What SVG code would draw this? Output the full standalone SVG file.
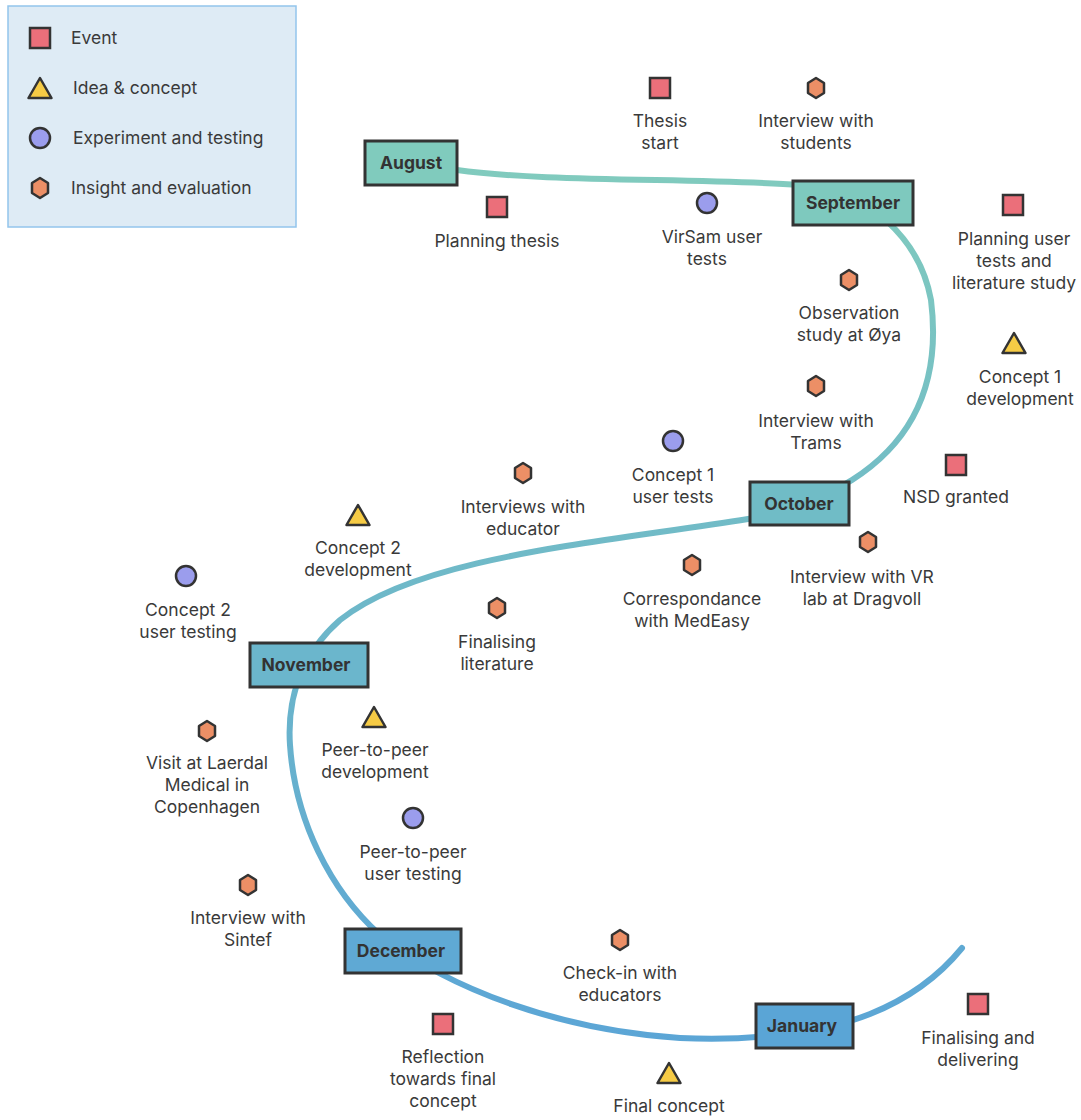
<svg xmlns="http://www.w3.org/2000/svg" xmlns:xlink="http://www.w3.org/1999/xlink" width="1081" height="1120" viewBox="0 0 1081 1120">
  <style>
    .lbl { font-family: Inter, "Noto Sans", "Liberation Sans", sans-serif; font-size: 17.5px; fill: #3a3a3a; text-anchor: middle; }
    .leg { font-family: Inter, "Noto Sans", "Liberation Sans", sans-serif; font-size: 17.5px; fill: #3a3a3a; }
    .month text { font-family: Inter, "Noto Sans", "Liberation Sans", sans-serif; font-size: 17.5px; font-weight: 700; fill: #333; text-anchor: middle; }
    .month rect { stroke: #333; stroke-width: 3; }
    .ev { fill: #eb6f7a; stroke: #333; stroke-width: 2.5; }
    .idea { fill: #f6cb45; stroke: #333; stroke-width: 2.5; stroke-linejoin: round; }
    .exp { fill: #9b9ded; stroke: #333; stroke-width: 2.5; }
    .ins { fill: #ec8f66; stroke: #333; stroke-width: 2.5; stroke-linejoin: round; }
  </style>
  <defs>
    <linearGradient id="timeline" x1="0" y1="140" x2="0" y2="1050" gradientUnits="userSpaceOnUse">
      <stop offset="0" stop-color="#82ccbd"/>
      <stop offset="0.4" stop-color="#72bcc6"/>
      <stop offset="1" stop-color="#5ba5d6"/>
    </linearGradient>
    <rect id="sq" x="-10" y="-10" width="20" height="20" class="ev"/>
    <polygon id="tri" points="0,-11 11.5,9 -11.5,9" class="idea"/>
    <circle id="cir" r="10" class="exp"/>
    <polygon id="hex" points="0,-10 8,-5 8,5 0,10 -8,5 -8,-5" class="ins"/>
  </defs>

  <!-- legend -->
  <g id="legend">
    <rect x="8" y="6" width="288" height="221" fill="#deebf5" stroke="#93c5ec" stroke-width="1.5"/>
    <use href="#sq" x="40" y="38"/>
    <text class="leg" x="71" y="44">Event</text>
    <use href="#tri" x="40" y="89"/>
    <text class="leg" x="73" y="94">Idea &amp; concept</text>
    <use href="#cir" x="40" y="138"/>
    <text class="leg" x="73" y="144">Experiment and testing</text>
    <use href="#hex" x="40" y="188"/>
    <text class="leg" x="71" y="194">Insight and evaluation</text>
  </g>

  <!-- timeline connector -->
  <g id="connectors">
    <path d="M 457 170 C 540 182, 700 178, 800 185 C 870 190, 920 240, 931 300 C 941 380, 915 440, 852 480 C 820 500, 780 514, 748 519 C 600 543, 420 556, 340 620 C 300 655, 287 700, 290 745 C 295 820, 330 890, 380 935 C 450 990, 560 1030, 680 1038 C 760 1042, 830 1030, 870 1014 C 910 998, 940 975, 962 948" fill="none" stroke="url(#timeline)" stroke-width="6" stroke-linecap="round"/>
  </g>

  <!-- months -->
  <g id="m-aug" class="month"><rect x="365" y="141" width="92" height="44" fill="#80cbbd"/><text x="411" y="169">August</text></g>
  <g id="m-sep" class="month"><rect x="793" y="181" width="120" height="44" fill="#7ec9be"/><text x="853" y="209">September</text></g>
  <g id="m-oct" class="month"><rect x="750" y="482" width="99" height="43" fill="#70bcc6"/><text x="799" y="510">October</text></g>
  <g id="m-nov" class="month"><rect x="250" y="643" width="118" height="44" fill="#6bb6cc"/><text x="306" y="671">November</text></g>
  <g id="m-dec" class="month"><rect x="345" y="929" width="116" height="44" fill="#5fa9d4"/><text x="401" y="957">December</text></g>
  <g id="m-jan" class="month"><rect x="756" y="1004" width="97" height="44" fill="#5aa5d6"/><text x="802" y="1032">January</text></g>

  <!-- activities -->
  <g id="thesis-start"><use href="#sq" x="660" y="88"/><text class="lbl" x="660" y="127">Thesis</text><text class="lbl" x="660" y="149">start</text></g>
  <g id="interview-students"><use href="#hex" x="816" y="88"/><text class="lbl" x="816" y="127">Interview with</text><text class="lbl" x="816" y="149">students</text></g>
  <g id="planning-thesis"><use href="#sq" x="497" y="207"/><text class="lbl" x="497" y="247">Planning thesis</text></g>
  <g id="virsam-tests"><use href="#cir" x="707" y="203"/><text class="lbl" x="712" y="243">VirSam user</text><text class="lbl" x="707" y="265">tests</text></g>
  <g id="planning-user-tests"><use href="#sq" x="1013" y="205"/><text class="lbl" x="1014" y="245">Planning user</text><text class="lbl" x="1014" y="267">tests and</text><text class="lbl" x="1014" y="289">literature study</text></g>
  <g id="observation-oya"><use href="#hex" x="849" y="280"/><text class="lbl" x="849" y="319">Observation</text><text class="lbl" x="849" y="341">study at Øya</text></g>
  <g id="concept1-dev"><use href="#tri" x="1014" y="344"/><text class="lbl" x="1020" y="383">Concept 1</text><text class="lbl" x="1020" y="405">development</text></g>
  <g id="interview-trams"><use href="#hex" x="816" y="386"/><text class="lbl" x="816" y="427">Interview with</text><text class="lbl" x="816" y="449">Trams</text></g>
  <g id="concept1-tests"><use href="#cir" x="673" y="441"/><text class="lbl" x="673" y="481">Concept 1</text><text class="lbl" x="673" y="503">user tests</text></g>
  <g id="interviews-educator"><use href="#hex" x="523" y="473"/><text class="lbl" x="523" y="513">Interviews with</text><text class="lbl" x="523" y="535">educator</text></g>
  <g id="nsd-granted"><use href="#sq" x="956" y="465"/><text class="lbl" x="956" y="503">NSD granted</text></g>
  <g id="concept2-dev"><use href="#tri" x="358" y="516"/><text class="lbl" x="358" y="554">Concept 2</text><text class="lbl" x="358" y="576">development</text></g>
  <g id="vr-lab"><use href="#hex" x="868" y="542"/><text class="lbl" x="862" y="583">Interview with VR</text><text class="lbl" x="862" y="605">lab at Dragvoll</text></g>
  <g id="medeasy"><use href="#hex" x="692" y="565"/><text class="lbl" x="692" y="605">Correspondance</text><text class="lbl" x="692" y="627">with MedEasy</text></g>
  <g id="concept2-testing"><use href="#cir" x="186" y="576"/><text class="lbl" x="188" y="616">Concept 2</text><text class="lbl" x="188" y="638">user testing</text></g>
  <g id="finalising-literature"><use href="#hex" x="497" y="608"/><text class="lbl" x="497" y="648">Finalising</text><text class="lbl" x="497" y="670">literature</text></g>
  <g id="p2p-dev"><use href="#tri" x="374" y="718"/><text class="lbl" x="375" y="756">Peer-to-peer</text><text class="lbl" x="375" y="778">development</text></g>
  <g id="laerdal"><use href="#hex" x="207" y="731"/><text class="lbl" x="207" y="769">Visit at Laerdal</text><text class="lbl" x="207" y="791">Medical in</text><text class="lbl" x="207" y="813">Copenhagen</text></g>
  <g id="p2p-testing"><use href="#cir" x="413" y="818"/><text class="lbl" x="413" y="858">Peer-to-peer</text><text class="lbl" x="413" y="880">user testing</text></g>
  <g id="interview-sintef"><use href="#hex" x="248" y="885"/><text class="lbl" x="248" y="924">Interview with</text><text class="lbl" x="248" y="946">Sintef</text></g>
  <g id="checkin-educators"><use href="#hex" x="620" y="940"/><text class="lbl" x="620" y="979">Check-in with</text><text class="lbl" x="620" y="1001">educators</text></g>
  <g id="finalising-delivering"><use href="#sq" x="978" y="1004"/><text class="lbl" x="978" y="1044">Finalising and</text><text class="lbl" x="978" y="1066">delivering</text></g>
  <g id="reflection"><use href="#sq" x="443" y="1024"/><text class="lbl" x="443" y="1063">Reflection</text><text class="lbl" x="443" y="1085">towards final</text><text class="lbl" x="443" y="1107">concept</text></g>
  <g id="final-concept"><use href="#tri" x="669" y="1074"/><text class="lbl" x="669" y="1112">Final concept</text></g>
</svg>
